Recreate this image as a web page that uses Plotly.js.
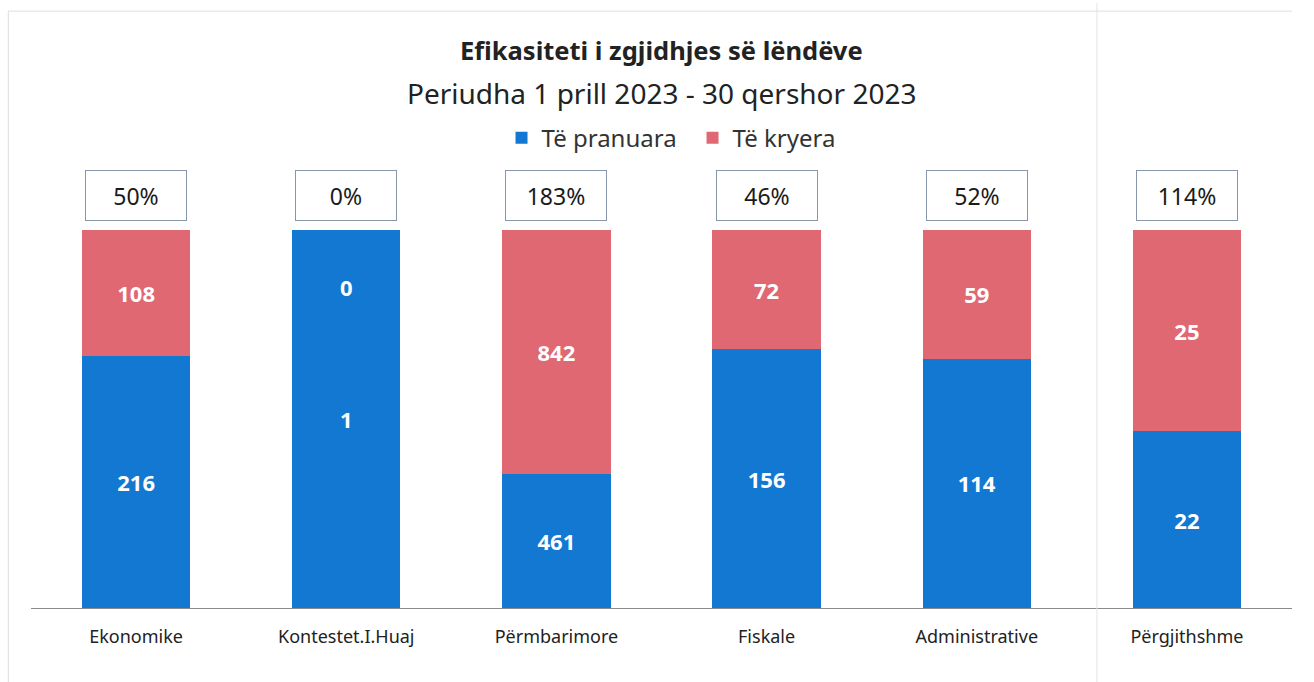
<!DOCTYPE html>
<html>
<head>
<meta charset="utf-8">
<script src="https://cdn.plot.ly/plotly-3.0.1.min.js"></script>
<style>html,body{margin:0;padding:0;background:#fff;}#chart{width:1314px;height:682px;}</style>
</head>
<body>
<div id="chart"></div>
<script>
const categories = ["Ekonomike", "Kontestet.I.Huaj", "Përmbarimore", "Fiskale", "Administrative", "Përgjithshme"];
const pranuara = [216, 1, 461, 156, 114, 22];
const kryera = [108, 0, 842, 72, 59, 25];
const seriesNames = ["Të pranuara", "Të kryera"];
const titleText = "Efikasiteti i zgjidhjes së lëndëve";
const subtitleText = "Periudha 1 prill 2023 - 30 qershor 2023";

const FONT = "Noto Sans, Open Sans, sans-serif";
const BLUE = "#1278d2";
const RED = "#e06873";

const labelFont = {color: "#ffffff", size: 22, family: FONT, weight: "bold"};

const traces = [
  {
    type: "bar", name: seriesNames[0], x: categories, y: pranuara,
    marker: {color: BLUE}, text: pranuara.map(String), textposition: "inside",
    insidetextanchor: "middle", textangle: 0, textfont: labelFont,
    hoverinfo: "x+y+name"
  },
  {
    type: "bar", name: seriesNames[1], x: categories, y: kryera,
    marker: {color: RED}, text: kryera.map(String), textposition: "inside",
    insidetextanchor: "middle", textangle: 0, textfont: labelFont,
    hoverinfo: "x+y+name"
  }
];

const annotations = [
  {text: "<b>" + titleText + "</b>", xref: "paper", yref: "paper", x: 0.5, y: 1.476,
   xanchor: "center", yanchor: "middle", showarrow: false,
   font: {family: FONT, size: 25.5, color: "#222"}},
  {text: subtitleText, xref: "paper", yref: "paper", x: 0.5, y: 1.362,
   xanchor: "center", yanchor: "middle", showarrow: false,
   font: {family: FONT, size: 28, color: "#222"}}
];
categories.forEach((c, i) => {
  const pct = pranuara[i] ? Math.round(kryera[i] / pranuara[i] * 100) : 0;
  annotations.push({
    x: c, y: 1.09, xref: "x", yref: "paper", xanchor: "center", yanchor: "middle",
    text: pct + "%", showarrow: false,
    font: {family: FONT, size: 23, color: "#1a1a1a"},
    bordercolor: "#8796aa", borderwidth: 1, width: 98, height: 47, bgcolor: "#ffffff"
  });
  if (kryera[i] === 0) {
    annotations.push({
      x: c, y: 0.85, xref: "x", yref: "paper", xanchor: "center", yanchor: "middle",
      text: String(kryera[i]), showarrow: false, font: labelFont
    });
  }
});

const layout = {
  width: 1314, height: 682,
  paper_bgcolor: "#ffffff", plot_bgcolor: "#ffffff",
  margin: {l: 31, r: 22, t: 230, b: 74},
  barmode: "stack", barnorm: "fraction", bargap: 0.485,
  font: {family: FONT, color: "#222"},
  legend: {
    orientation: "h", x: 0.5246, xanchor: "center", y: 1.243, yanchor: "middle",
    font: {family: FONT, size: 24, color: "#333"}, traceorder: "normal",
    itemwidth: 30, entrywidth: 146, entrywidthmode: "pixels"
  },
  xaxis: {
    showline: true, linecolor: "#8a8a8a", linewidth: 1, ticks: "", showgrid: false,
    tickfont: {family: FONT, size: 18, color: "#222"}, automargin: false,
    ticklabelstandoff: 12
  },
  yaxis: {range: [0, 1], visible: false, showgrid: false, zeroline: false, fixedrange: true},
  annotations: annotations,
  shapes: [
    {type: "line", xref: "paper", yref: "paper", x0: 0.8453, x1: 0.8453, y0: -0.2, y1: 1.6, line: {color: "#e3e3e3", width: 1}},
    {type: "line", xref: "paper", yref: "paper", x0: -0.018, x1: -0.018, y0: -0.2, y1: 1.58, line: {color: "#dcdcdc", width: 1}},
    {type: "line", xref: "paper", yref: "paper", x0: -0.018, x1: 1.0, y0: 1.579, y1: 1.579, line: {color: "#e0e0e0", width: 1}}
  ],
  showlegend: true
};

Plotly.newPlot("chart", traces, layout, {displayModeBar: false, staticPlot: true});
</script>
</body>
</html>
